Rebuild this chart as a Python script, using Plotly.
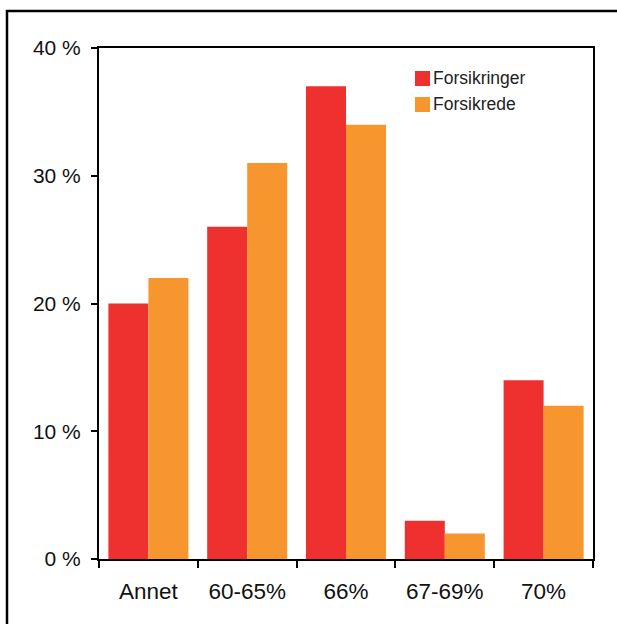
import plotly.graph_objects as go

categories = ["Annet", "60-65%", "66%", "67-69%", "70%"]
forsikringer = [20, 26, 37, 3, 14]
forsikrede = [22, 31, 34, 2, 12]
y_ticks = [0, 10, 20, 30, 40]
y_tick_labels = ["0 %", "10 %", "20 %", "30 %", "40 %"]
series_names = ["Forsikringer", "Forsikrede"]

RED = "#EE312E"
ORANGE = "#F7962E"
FONT = "Liberation Sans, Arial, sans-serif"

fig = go.Figure()
for name, vals, col in zip(series_names, [forsikringer, forsikrede], [RED, ORANGE]):
    fig.add_trace(go.Bar(name=name, x=categories, y=vals, showlegend=False,
                         marker=dict(color=col, line=dict(width=0))))

W, H = 617, 624
L, R, T, B = 99, 24, 48, 65
pw, ph = W - L - R, H - T - B

def px_x(x):
    return (x - L) / pw

def px_y(y):
    return (H - B - y) / ph

shapes = [
    # outer frame around the figure
    dict(type="rect", xref="paper", yref="paper",
         x0=px_x(7), x1=px_x(640), y0=px_y(640), y1=px_y(11),
         line=dict(color="black", width=2.5), layer="above"),
]
annotations = []
# legend: colour swatch plus label for each series
for i, (name, col) in enumerate(zip(series_names, [RED, ORANGE])):
    top = 71 + i * 26
    shapes.append(dict(type="rect", xref="paper", yref="paper",
                       x0=px_x(415), x1=px_x(430), y0=px_y(top + 15), y1=px_y(top),
                       fillcolor=col, line=dict(width=0)))
    annotations.append(dict(xref="paper", yref="paper", x=px_x(431), y=px_y(top + 7.5),
                            xanchor="left", yanchor="middle", showarrow=False,
                            text=name, font=dict(size=17.5, family=FONT, color="#222")))

fig.update_layout(
    width=W, height=H,
    margin=dict(l=L, r=R, t=T, b=B),
    paper_bgcolor="white", plot_bgcolor="white",
    barmode="group", bargap=0.19, bargroupgap=0,
    font=dict(family=FONT, color="black"),
    showlegend=False,
    shapes=shapes,
    annotations=annotations,
)

fig.update_xaxes(
    showline=True, linecolor="black", linewidth=2, mirror=True,
    ticks="outside", tickson="boundaries", ticklen=7, tickwidth=2, tickcolor="black",
    tickfont=dict(size=22.5, family=FONT, color="#111"), showgrid=False,
    ticklabelstandoff=11,
)
fig.update_yaxes(
    range=[0, 40], tickmode="array", tickvals=y_ticks, ticktext=y_tick_labels,
    showline=True, linecolor="black", linewidth=2, mirror=True,
    ticks="outside", ticklen=6, tickwidth=2, tickcolor="black",
    tickfont=dict(size=21, family=FONT, color="#111"), showgrid=False, zeroline=False,
    ticklabelstandoff=6,
)

fig.write_html("out.html")
